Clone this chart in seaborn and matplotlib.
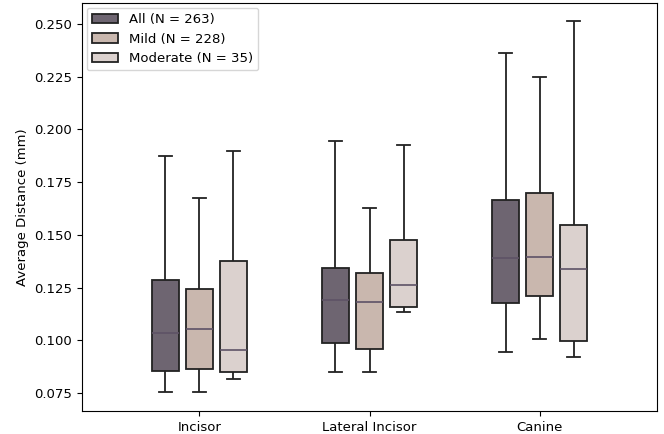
import numpy as np
import pandas as pd
import seaborn as sns
import matplotlib.pyplot as plt

# five-number summaries: [min, q1, median, q3, max]
teeth = ["Incisor", "Lateral Incisor", "Canine"]
groups = ["All (N = 263)", "Mild (N = 228)", "Moderate (N = 35)"]

all_incisor = [0.0754, 0.0854, 0.1034, 0.1286, 0.1874]
all_lateral = [0.0851, 0.0987, 0.1191, 0.1344, 0.1945]
all_canine = [0.0944, 0.1175, 0.1391, 0.1666, 0.2364]

mild_incisor = [0.0754, 0.0863, 0.1053, 0.1243, 0.1676]
mild_lateral = [0.0851, 0.0958, 0.1183, 0.1319, 0.1629]
mild_canine = [0.1004, 0.1210, 0.1395, 0.1700, 0.2247]

moderate_incisor = [0.0816, 0.0849, 0.0952, 0.1377, 0.1896]
moderate_lateral = [0.1132, 0.1157, 0.1262, 0.1475, 0.1924]
moderate_canine = [0.0920, 0.0995, 0.1338, 0.1546, 0.2514]

colors = ["#6f6373", "#cdb5a9", "#ddd0cc"]

summaries = {
    groups[0]: [all_incisor, all_lateral, all_canine],
    groups[1]: [mild_incisor, mild_lateral, mild_canine],
    groups[2]: [moderate_incisor, moderate_lateral, moderate_canine],
}

rows = []
for g, per_tooth in summaries.items():
    for tooth, vals in zip(teeth, per_tooth):
        for v in vals:
            rows.append({"tooth": tooth, "group": g, "distance": v})
df = pd.DataFrame(rows)

plt.rcParams["font.size"] = 9.5

fig = plt.figure(figsize=(6.64, 4.34), dpi=100)
ax = fig.add_axes([0.1235, 0.053, 0.866, 0.940])

sns.boxplot(
    data=df, x="tooth", y="distance", hue="group",
    order=teeth, hue_order=groups, palette=colors,
    width=0.6, gap=0.2, whis=np.inf, ax=ax,
    linecolor="#222222", linewidth=1.3,
    medianprops={"color": "#5e5266", "linewidth": 1.2},
)

ax.set_xlim(-0.69, 2.69)
ax.set_ylim(0.0664, 0.260)
ax.set_yticks([0.075, 0.100, 0.125, 0.150, 0.175, 0.200, 0.225, 0.250])
ax.yaxis.set_major_formatter(plt.FormatStrFormatter("%.3f"))
ax.tick_params(labelsize=9.5)
ax.set_xlabel("")
ax.set_ylabel("Average Distance (mm)", fontsize=9.5)
ax.legend(loc="upper left", fontsize=9.5, borderaxespad=0.35)

fig.savefig("out.png", dpi=100)
